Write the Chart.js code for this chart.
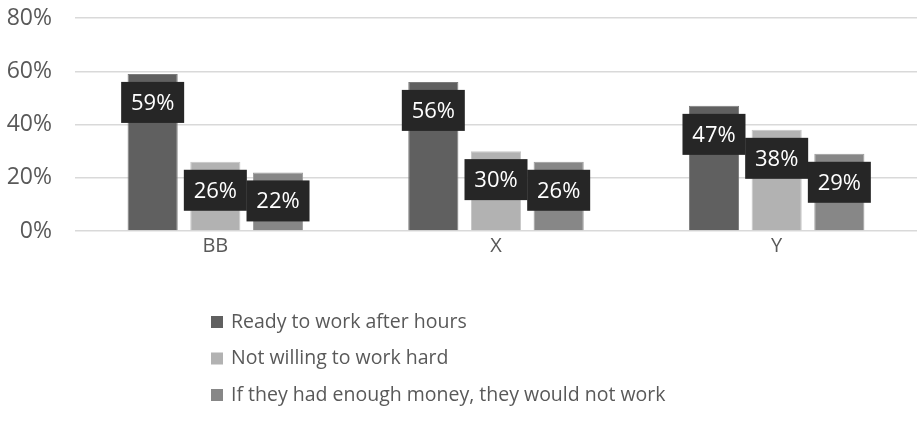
<!DOCTYPE html>
<html>
<head>
<meta charset="utf-8">
<script src="https://cdn.jsdelivr.net/npm/chart.js@4/dist/chart.umd.min.js"></script>
<style>
  html, body { margin: 0; padding: 0; background: #fff; }
  #wrap { width: 917px; height: 434px; position: relative; }
</style>
</head>
<body>
<div id="wrap"><canvas id="chart"></canvas></div>
<script>
const categories = ['BB', 'X', 'Y'];
const seriesNames = [
  'Ready to work after hours',
  'Not willing to work hard',
  'If they had enough money, they would not work'
];
const readyAfterHours = [59, 56, 47];
const notWillingHard = [26, 30, 38];
const wouldNotWork = [22, 26, 29];
const yTicks = [0, 20, 40, 60, 80];

const colors = ['#606060', '#b2b2b2', '#878787'];
const edges = ['#7c7c7c', '#c6c6c6', '#9c9c9c'];
const FONT = "'Open Sans', 'Noto Sans', sans-serif";

// boxed value labels, like excel's data callouts
const valueBoxes = {
  id: 'valueBoxes',
  afterDatasetsDraw(chart) {
    const ctx = chart.ctx;
    ctx.save();
    ctx.font = '22px ' + FONT;
    ctx.textAlign = 'center';
    ctx.textBaseline = 'middle';
    chart.data.datasets.forEach((ds, i) => {
      const meta = chart.getDatasetMeta(i);
      meta.data.forEach((bar, j) => {
        const w = 63, h = 41;
        const top = bar.y + 8;
        ctx.fillStyle = '#262626';
        ctx.fillRect(bar.x - w / 2, top, w, h);
        ctx.fillStyle = '#ffffff';
        ctx.fillText(ds.data[j] + '%', bar.x, top + h / 2 + 1);
      });
    });
    ctx.restore();
  }
};

// legend stacked in one column under the plot
const columnLegend = {
  id: 'columnLegend',
  afterDraw(chart) {
    const ctx = chart.ctx;
    ctx.save();
    ctx.font = '19.5px ' + FONT;
    ctx.textBaseline = 'middle';
    ctx.textAlign = 'left';
    chart.data.datasets.forEach((ds, i) => {
      const y = 322 + i * 36.5;
      ctx.fillStyle = ds.backgroundColor;
      ctx.fillRect(211, y - 6, 12, 12);
      ctx.fillStyle = '#595959';
      ctx.fillText(ds.label, 231, y);
    });
    ctx.restore();
  }
};

const seriesData = [readyAfterHours, notWillingHard, wouldNotWork];

new Chart(document.getElementById('chart'), {
  type: 'bar',
  data: {
    labels: categories,
    datasets: seriesData.map((d, i) => ({
      label: seriesNames[i],
      data: d,
      backgroundColor: colors[i],
      borderColor: edges[i],
      borderWidth: 1,
      barPercentage: 0.8,
      categoryPercentage: 0.67
    }))
  },
  options: {
    responsive: true,
    maintainAspectRatio: false,
    animation: false,
    layout: { padding: { top: 18, right: 0, left: 0, bottom: 173 } },
    plugins: {
      legend: { display: false },
      tooltip: { enabled: false }
    },
    scales: {
      x: {
        grid: { display: false, drawTicks: false },
        border: { display: false },
        ticks: { color: '#595959', font: { family: FONT, size: 20 }, padding: 3 },
        afterFit(scale) { scale.height = 30; }
      },
      y: {
        min: 0,
        max: 80,
        grid: { color: '#d9d9d9', lineWidth: 1.5, drawTicks: false },
        border: { display: false },
        afterBuildTicks(scale) { scale.ticks = yTicks.map(v => ({ value: v })); },
        ticks: {
          color: '#595959',
          font: { family: FONT, size: 23 },
          padding: 23,
          callback: v => v + '%'
        },
        afterFit(scale) {
          scale.width = 75;
          // tick padding is horizontal here, don't let it push the top down
          scale.paddingTop = 10;
          scale.paddingBottom = 10;
        }
      }
    }
  },
  plugins: [valueBoxes, columnLegend]
});
</script>
</body>
</html>
